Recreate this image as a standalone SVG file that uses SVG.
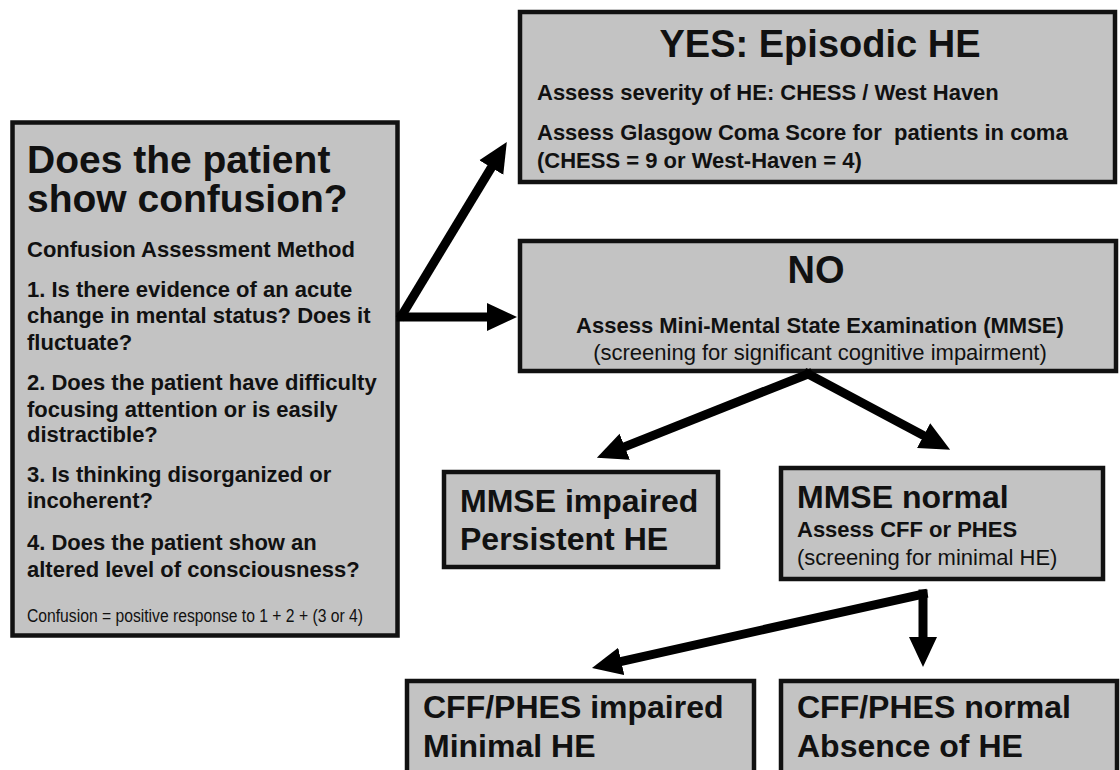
<svg xmlns="http://www.w3.org/2000/svg" width="1120" height="770" viewBox="0 0 1120 770">
<style>
.box{fill:#c3c3c3;stroke:#111;stroke-width:4.5}
text{font-family:"Liberation Sans",Arial,Helvetica,sans-serif;fill:#111}
.b{font-weight:bold}
.t38{font-size:38px;font-weight:bold}
.t32{font-size:32px;font-weight:bold}
.t22{font-size:22px}
.c{text-anchor:middle}
.arr{stroke:#000;stroke-width:9;fill:none;stroke-linecap:square;marker-end:url(#ah)}
</style>
<defs>
<marker id="ah" markerUnits="userSpaceOnUse" markerWidth="32" markerHeight="30" refX="2" refY="15" orient="auto">
<path d="M0,1 L30,15 L0,29 Z" fill="#000"/>
</marker>
</defs>
<rect width="1120" height="770" fill="#fff"/>

<g id="confusion">
<rect class="box" x="12.5" y="122.5" width="385" height="513"/>
<text x="27" y="173" style="font-size:39px;font-weight:bold">Does the patient</text>
<text x="27" y="212" style="font-size:39px;font-weight:bold">show confusion?</text>
<text class="t22 b" x="27" y="257">Confusion Assessment Method</text>
<text class="t22 b" x="27" y="297">1. Is there evidence of an acute</text>
<text class="t22 b" x="27" y="323">change in mental status? Does it</text>
<text class="t22 b" x="27" y="350">fluctuate?</text>
<text class="t22 b" x="27" y="390">2. Does the patient have difficulty</text>
<text class="t22 b" x="27" y="417">focusing attention or is easily</text>
<text class="t22 b" x="27" y="442">distractible?</text>
<text class="t22 b" x="27" y="482">3. Is thinking disorganized or</text>
<text class="t22 b" x="27" y="508">incoherent?</text>
<text class="t22 b" x="27" y="550">4. Does the patient show an</text>
<text class="t22 b" x="27" y="577">altered level of consciousness?</text>
<text x="27" y="622" style="font-size:18px" textLength="336" lengthAdjust="spacingAndGlyphs">Confusion = positive response to 1 + 2 + (3 or 4)</text>
</g>

<g id="yes">
<rect class="box" x="520" y="12" width="595" height="170"/>
<text class="t38 c" x="820" y="57">YES: Episodic HE</text>
<text class="t22 b" x="537" y="100">Assess severity of HE: CHESS / West Haven</text>
<text class="t22 b" x="537" y="140" xml:space="preserve">Assess Glasgow Coma Score for  patients in coma</text>
<text class="t22 b" x="537" y="168">(CHESS = 9 or West-Haven = 4)</text>
</g>

<g id="no">
<rect class="box" x="520" y="241" width="596" height="130"/>
<text class="t38 c" x="816" y="283">NO</text>
<text class="t22 b c" x="820" y="333">Assess Mini-Mental State Examination (MMSE)</text>
<text class="t22 c" x="820" y="360">(screening for significant cognitive impairment)</text>
</g>

<g id="mmse-impaired">
<rect class="box" x="444" y="472" width="274" height="95"/>
<text class="t32" x="460" y="512">MMSE impaired</text>
<text class="t32" x="460" y="550">Persistent HE</text>
</g>

<g id="mmse-normal">
<rect class="box" x="781" y="468" width="322" height="111"/>
<text class="t32" x="797" y="508">MMSE normal</text>
<text class="t22 b" x="797" y="537">Assess CFF or PHES</text>
<text class="t22" x="797" y="565">(screening for minimal HE)</text>
</g>

<g id="cff-impaired">
<rect class="box" x="407" y="681" width="347" height="120"/>
<text class="t32" x="423" y="718">CFF/PHES impaired</text>
<text class="t32" x="423" y="757">Minimal HE</text>
</g>

<g id="cff-normal">
<rect class="box" x="781" y="681" width="336" height="120"/>
<text class="t32" x="797" y="718">CFF/PHES normal</text>
<text class="t32" x="797" y="757">Absence of HE</text>
</g>

<g id="connectors">
<line class="arr" x1="402" y1="315" x2="492.3" y2="165.9"/>
<line class="arr" x1="401" y1="317" x2="489" y2="317"/>
<line class="arr" x1="808" y1="374" x2="622.9" y2="447.4"/>
<line class="arr" x1="808" y1="374" x2="925.4" y2="436.5"/>
<line class="arr" x1="923" y1="594" x2="619.3" y2="661.8"/>
<line class="arr" x1="923" y1="594" x2="923" y2="639"/>
</g>
</svg>
